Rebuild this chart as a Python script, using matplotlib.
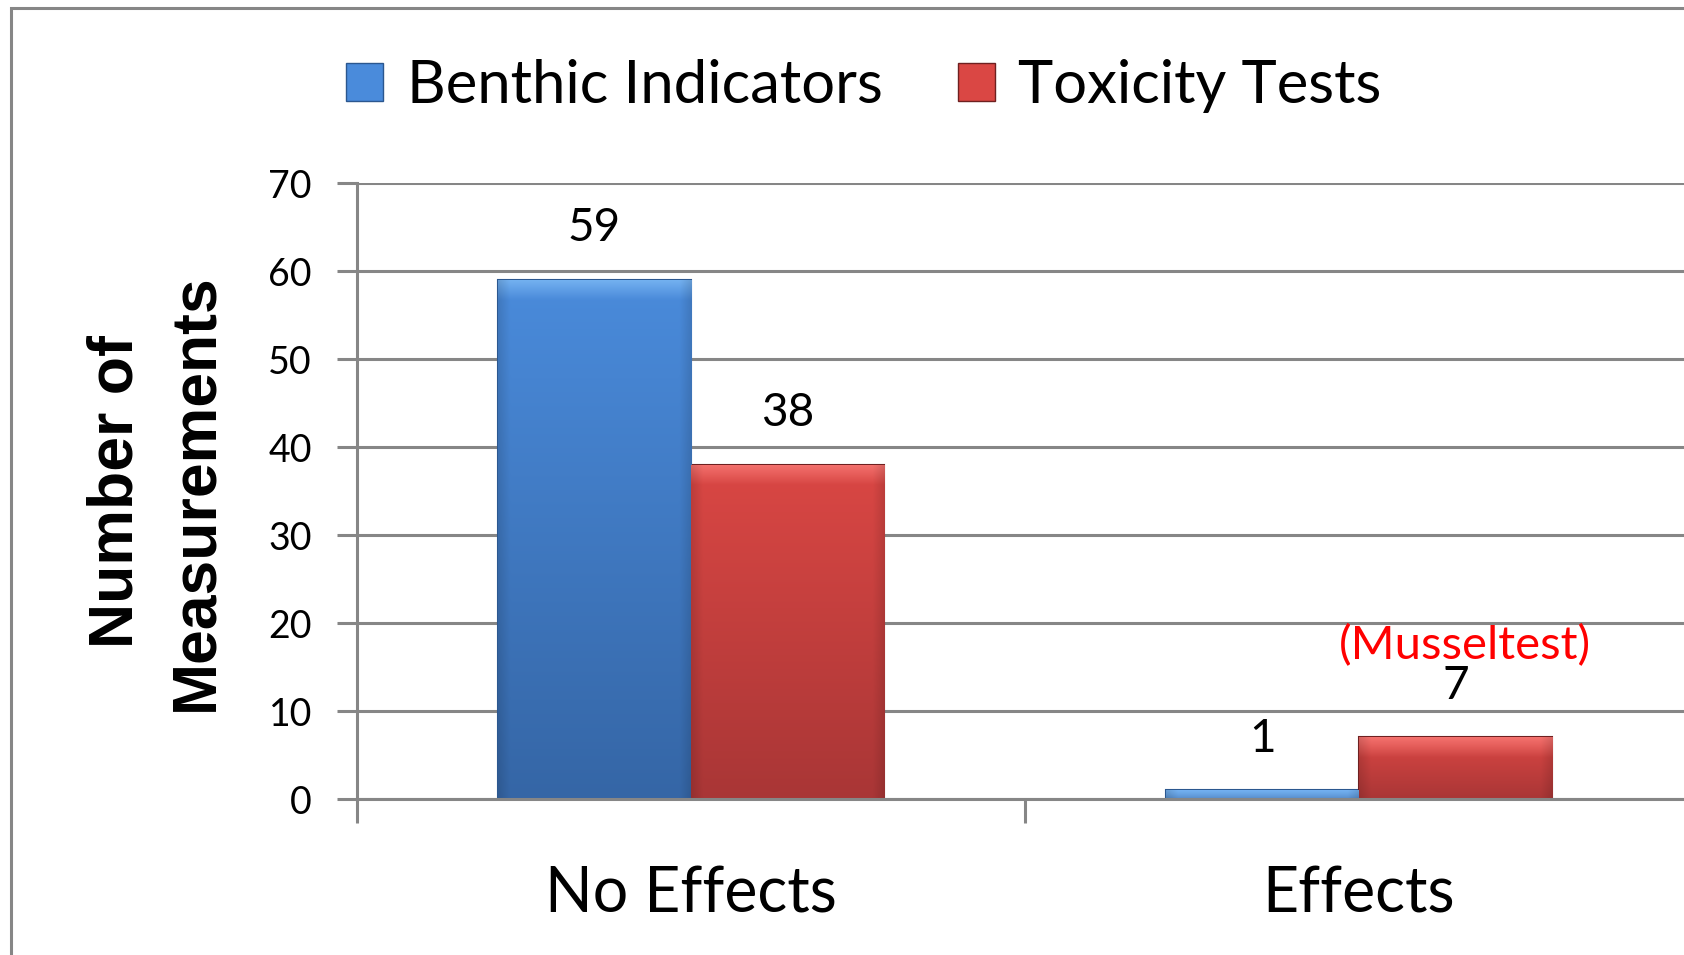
import numpy as np
import matplotlib.pyplot as plt
from matplotlib.patches import Patch, Rectangle
from matplotlib.colors import to_rgb

categories = ['No Effects', 'Effects']
series_names = ['Benthic Indicators', 'Toxicity Tests']
benthic = [59, 1]
toxicity = [38, 7]
note_text = '(Musseltest)'
y_ticks = [0, 10, 20, 30, 40, 50, 60, 70]
y_label = 'Number of\nMeasurements'

plt.rcParams['font.family'] = ['Lato', 'DejaVu Sans']

GRID = '#868686'
LW = 2.2  # ~3 px

blue_top, blue_bot, blue_hi, blue_edge = '#4A8BDB', '#3566A6', '#86C2FA', '#2B578F'
red_top, red_bot, red_hi, red_edge = '#DA4744', '#A93636', '#FF8480', '#6E2020'


def shade_bar(ax, bar, top, bot, hi):
    x0, w, h = bar.get_x(), bar.get_width(), bar.get_height()
    ys = np.linspace(h, 0, 300)
    t = (ys / h)[:, None]
    c = np.array(to_rgb(bot)) + (np.array(to_rgb(top)) - np.array(to_rgb(bot))) * t
    hl = np.clip((ys - (h - 2.3)) / 2.3, 0, 1)[:, None]
    c = c * (1 - 0.7 * hl) + np.array(to_rgb(hi)) * 0.7 * hl
    xs = np.linspace(0, 1, 120)
    edge = 1 - 0.12 * (np.clip(1 - np.minimum(xs, 1 - xs) / 0.06, 0, 1))
    img = c[:, None, :] * edge[None, :, None]
    im = ax.imshow(np.clip(img, 0, 1), extent=[x0, x0 + w, 0, h], aspect='auto',
                   origin='upper', interpolation='bilinear', zorder=3)
    im.set_clip_path(bar)


fig = plt.figure(figsize=(16.84, 9.55), dpi=100)
ax = fig.add_axes([357 / 1684, 1 - 799 / 955, (1693 - 357) / 1684, (799 - 183) / 955])

x = np.arange(len(categories))
w = 0.289
b1 = ax.bar(x - w / 2, benthic, w, facecolor=blue_top, edgecolor=blue_edge, linewidth=1.5, zorder=3)
b2 = ax.bar(x + w / 2, toxicity, w, facecolor=red_top, edgecolor=red_edge, linewidth=1.5, zorder=3)
for bar in b1:
    shade_bar(ax, bar, blue_top, blue_bot, blue_hi)
for bar in b2:
    shade_bar(ax, bar, red_top, red_bot, red_hi)

for bars, vals in [(b1, benthic), (b2, toxicity)]:
    for bar, v in zip(bars, vals):
        ax.annotate(str(v), (bar.get_x() + bar.get_width() / 2, v), xytext=(0, 37),
                    textcoords='offset points', ha='center', va='center', fontsize=33, color='black')

# note above the toxicity "Effects" bar
ax.annotate(note_text, (b2[1].get_x() + b2[1].get_width() / 2, toxicity[1]), xytext=(7, 66),
            textcoords='offset points', ha='center', va='center', fontsize=34, color='#FF0000')

ax.set_xlim(-0.5, 1.5)
ax.set_ylim(0, 70)
ax.set_yticks(y_ticks)
ax.set_xticks(x)
ax.set_xticklabels(categories, fontsize=45)
ax.set_xticks([-0.5, 0.5, 1.5], minor=True)
ax.tick_params(axis='x', which='major', length=0, pad=48)
ax.tick_params(axis='x', which='minor', length=17, width=LW, color=GRID)
ax.tick_params(axis='y', length=14.4, width=LW, color=GRID, pad=18, labelsize=27)

ax.yaxis.grid(True, color=GRID, linewidth=LW, zorder=0)
ax.set_axisbelow(True)
for s in ['top', 'right']:
    ax.spines[s].set_visible(False)
for s in ['left', 'bottom']:
    ax.spines[s].set_color(GRID)
    ax.spines[s].set_linewidth(LW)
    ax.spines[s].set_zorder(4)

fig.text(156 / 1684, 1 - 492 / 955, y_label, rotation=90, ha='center', va='center',
         multialignment='center', fontsize=45, fontweight='bold',
         family=['Liberation Sans'], linespacing=1.45)

handles = [Patch(facecolor=blue_top, edgecolor=blue_edge), Patch(facecolor=red_top, edgecolor=red_edge)]
fig.legend(handles, series_names, loc='center', bbox_to_anchor=(864 / 1684, 1 - 86 / 955), ncol=2,
           frameon=False, fontsize=43, handlelength=0.62, handleheight=0.62,
           handletextpad=0.4, columnspacing=1.25, borderpad=0)

# outer chart frame (only left and top edges visible)
fig.patches.append(Rectangle((11 / 1684, -0.5), 2, 1.5 - 8 / 955, transform=fig.transFigure,
                             fill=False, edgecolor=GRID, linewidth=LW))

fig.savefig('out.png', dpi=100)
